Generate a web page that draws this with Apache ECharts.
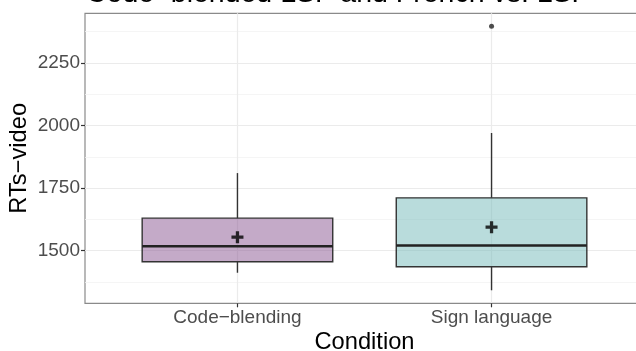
<!DOCTYPE html>
<html>
<head>
<meta charset="utf-8">
<script src="https://cdn.jsdelivr.net/npm/echarts@6/dist/echarts.min.js"></script>
<style>html,body{margin:0;padding:0;background:#fff}#c{width:636px;height:351px}</style>
</head>
<body>
<div id="c"></div>
<script>
// ---- data ----
const categories = ['Code\u2212blending', 'Sign language'];
const lowerWhisker = [1412, 1342];
const q1Values = [1456, 1436];
const medianValues = [1518, 1521];
const q3Values = [1630, 1711];
const upperWhisker = [1810, 1970];
const meanValues = [1554, 1594];
const outlierCategory = [2];
const outlierValues = [2396];
const yTickValues = [1500, 1750, 2000, 2250];
const yMinorValues = [1375, 1625, 1875, 2125, 2375];
const fillColors = ['rgba(137,85,145,0.5)', 'rgba(115,185,185,0.5)'];

const FONT = '"Liberation Sans", Arial, Helvetica, sans-serif';
const xPositions = categories.map((c, i) => i + 1);

const boxData = categories.map((c, i) => [xPositions[i], lowerWhisker[i], q1Values[i], medianValues[i], q3Values[i], upperWhisker[i]]);
const meanData = categories.map((c, i) => [xPositions[i], meanValues[i]]);
const outlierData = outlierValues.map((v, i) => [outlierCategory[i], v]);

const chart = echarts.init(document.getElementById('c'), null, {renderer: 'canvas'});

function renderBox(params, api) {
  const x = api.value(0);
  const pLow = api.coord([x, api.value(1)]);
  const pQ1 = api.coord([x, api.value(2)]);
  const pMed = api.coord([x, api.value(3)]);
  const pQ3 = api.coord([x, api.value(4)]);
  const pHigh = api.coord([x, api.value(5)]);
  const bw = api.size([1, 0])[0] * 0.75;
  const left = pQ1[0] - bw / 2;
  const stroke = '#333333';
  return {
    type: 'group',
    children: [
      {type: 'line', shape: {x1: pQ3[0], y1: pQ3[1], x2: pHigh[0], y2: pHigh[1]}, style: {stroke: stroke, lineWidth: 1.4}},
      {type: 'line', shape: {x1: pLow[0], y1: pLow[1], x2: pQ1[0], y2: pQ1[1]}, style: {stroke: stroke, lineWidth: 1.4}},
      {type: 'rect', shape: {x: left, y: pQ3[1], width: bw, height: pQ1[1] - pQ3[1]}, style: {fill: fillColors[params.dataIndex], stroke: stroke, lineWidth: 1.4}},
      {type: 'line', shape: {x1: left, y1: pMed[1], x2: left + bw, y2: pMed[1]}, style: {stroke: '#222222', lineWidth: 2.6}}
    ]
  };
}

const gridLines = [];
yMinorValues.forEach(v => gridLines.push({yAxis: v, lineStyle: {color: '#f3f3f3', width: 0.8, type: 'solid'}}));
yTickValues.forEach(v => gridLines.push({yAxis: v, lineStyle: {color: '#ebebeb', width: 1.2, type: 'solid'}}));
xPositions.forEach(v => gridLines.push({xAxis: v, lineStyle: {color: '#ebebeb', width: 1.2, type: 'solid'}}));

chart.setOption({
  animation: false,
  backgroundColor: '#ffffff',
  title: {
    text: 'Code\u2212blended LSF and French vs. LSF',
    left: 86, top: -20, padding: 0,
    textStyle: {fontFamily: FONT, fontSize: 28.5, fontWeight: 'normal', color: '#000'}
  },
  grid: {left: 85, right: -8, top: 13.3, bottom: 47.7, show: true, borderColor: '#8a8a8a', borderWidth: 1.2,
    backgroundColor: 'transparent', containLabel: false, outerBoundsMode: 'none'},
  xAxis: {
    type: 'value', min: 0.4, max: 2.6,
    name: 'Condition', nameLocation: 'middle', nameGap: 27, nameMoveOverlap: false,
    nameTextStyle: {fontFamily: FONT, fontSize: 23.7, color: '#000'},
    axisLine: {show: false},
    splitLine: {show: false},
    axisTick: {show: true, length: 4, lineStyle: {color: '#333', width: 1.2}, customValues: xPositions},
    axisLabel: {margin: 5, fontFamily: FONT, fontSize: 19, color: '#4d4d4d', customValues: xPositions,
      formatter: v => categories[Math.round(v) - 1] || ''}
  },
  yAxis: {
    type: 'value', min: 1290, max: 2448,
    name: 'RTs\u2212video', nameLocation: 'middle', nameGap: 54, nameMoveOverlap: false,
    nameTextStyle: {fontFamily: FONT, fontSize: 23.7, color: '#000'},
    axisLine: {show: false},
    splitLine: {show: false},
    axisTick: {show: true, length: 4, lineStyle: {color: '#333', width: 1.2}, customValues: yTickValues},
    axisLabel: {margin: 5, fontFamily: FONT, fontSize: 19, color: '#4d4d4d', customValues: yTickValues,
      formatter: v => String(v)}
  },
  series: [
    {
      type: 'line', data: [], silent: true, z: 0,
      markLine: {silent: true, z: 0, symbol: ['none', 'none'], label: {show: false}, animation: false, data: gridLines}
    },
    {
      type: 'custom', renderItem: renderBox, data: boxData, z: 10,
      encode: {x: 0, y: [1, 2, 3, 4, 5]}
    },
    {
      type: 'scatter', data: outlierData, symbol: 'circle', symbolSize: 5, z: 11,
      itemStyle: {color: '#222'}
    },
    {
      type: 'scatter', data: meanData, z: 12,
      symbol: 'path://M4,0H7V4H11V7H7V11H4V7H0V4H4Z', symbolSize: 12,
      itemStyle: {color: '#000'}
    }
  ]
});
</script>
</body>
</html>
